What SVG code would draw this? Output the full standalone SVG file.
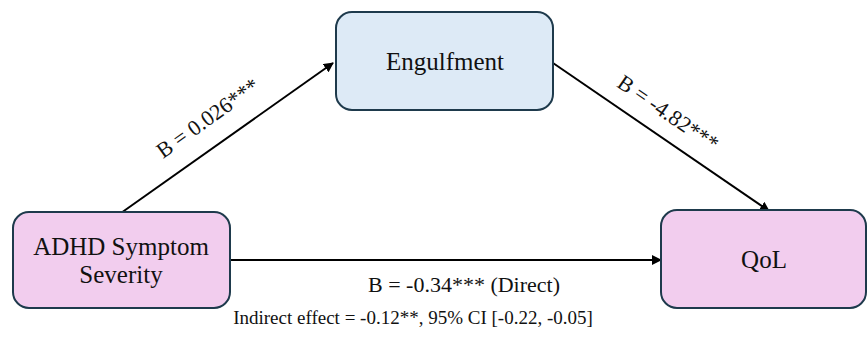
<svg xmlns="http://www.w3.org/2000/svg" width="867" height="341" viewBox="0 0 867 341">
<style>
.box{stroke:#1E3A4C;stroke-width:2}
.pink{fill:#F2CDEE}
.blue{fill:#DDEAF6}
.c{stroke:#000;stroke-width:2;fill:none;marker-end:url(#ah)}
</style>
<defs>
<marker id="ah" viewBox="0 0 10 10" refX="9" refY="5" markerWidth="5" markerHeight="5" orient="auto" markerUnits="strokeWidth">
<path d="M0,0 L10,5 L0,10 z" fill="#000"/>
</marker>
</defs>
<g id="connectors">
<line class="c" x1="121" y1="213" x2="333" y2="63"/>
<line class="c" x1="553" y1="63" x2="769" y2="211"/>
<line class="c" x1="230" y1="260" x2="661" y2="260"/>
<text font-family="Liberation Serif, serif" font-size="22" fill="#111" transform="translate(212,124) rotate(-35.5)" text-anchor="middle">B = 0.026***</text>
<text font-family="Liberation Serif, serif" font-size="22" fill="#111" transform="translate(664,119) rotate(34.4)" text-anchor="middle">B = -4.82***</text>
<text font-family="Liberation Serif, serif" font-size="22" fill="#111" x="464" y="292" text-anchor="middle">B = -0.34*** (Direct)</text>
<text font-family="Liberation Serif, serif" font-size="19" fill="#111" x="413" y="324" text-anchor="middle">Indirect effect = -0.12**, 95% CI [-0.22, -0.05]</text>
</g>
<g id="adhd">
<rect class="box pink" x="13" y="212" width="217" height="96" rx="16"/>
<text font-family="Liberation Serif, serif" font-size="25" fill="#111" x="121" y="255" text-anchor="middle">ADHD Symptom</text>
<text font-family="Liberation Serif, serif" font-size="25" fill="#111" x="121" y="283" text-anchor="middle">Severity</text>
</g>
<g id="engulfment">
<rect class="box blue" x="336" y="12" width="217" height="98" rx="16"/>
<text font-family="Liberation Serif, serif" font-size="25" fill="#111" x="445" y="70" text-anchor="middle">Engulfment</text>
</g>
<g id="qol">
<rect class="box pink" x="661" y="210" width="205" height="98" rx="16"/>
<text font-family="Liberation Serif, serif" font-size="25" fill="#111" x="764" y="268" text-anchor="middle">QoL</text>
</g>
</svg>
